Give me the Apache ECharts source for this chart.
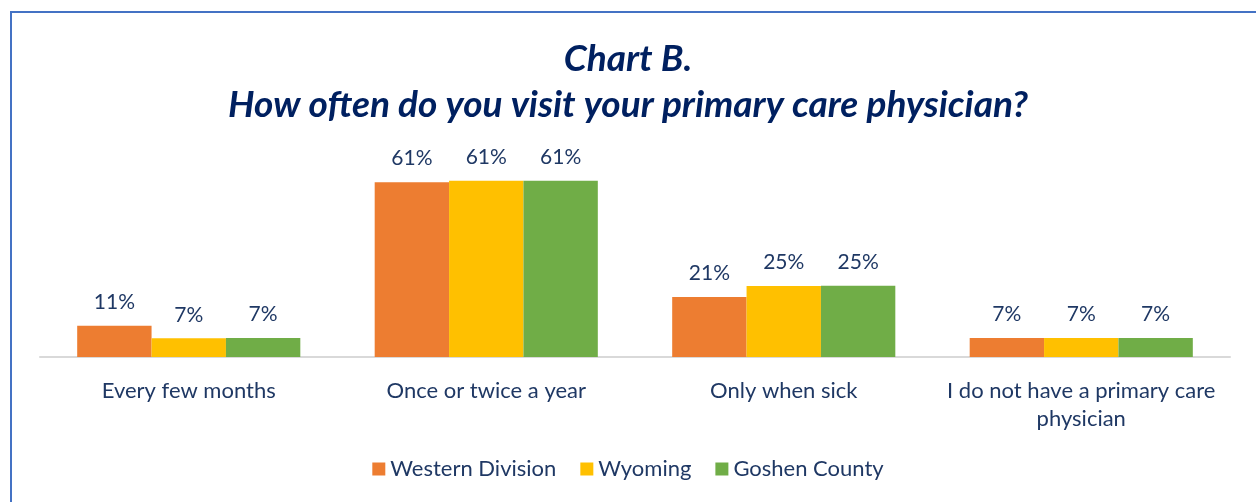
<!DOCTYPE html>
<html><head><meta charset="utf-8">
<script src="https://cdn.jsdelivr.net/npm/echarts@6/dist/echarts.min.js"></script>
<style>html,body{margin:0;padding:0;background:#fff;}#c{width:1256px;height:502px;}</style>
</head><body><div id="c"></div>
<script>
const categories = ["Every few months", "Once or twice a year", "Only when sick", "I do not have a primary care\nphysician"];
const seriesNames = ["Western Division", "Wyoming", "Goshen County"];
const westernDivision = [10.8, 60.6, 20.8, 6.6];
const wyoming = [6.5, 61.1, 24.6, 6.6];
const goshenCounty = [6.6, 61.1, 24.7, 6.6];
const colors = ["#ED7D31", "#FFC000", "#70AD47"];
const titleLines = ["Chart B.", "How often do you visit your primary care physician?"];

const navy = "#1F3864";
const font = "Lato, 'Open Sans', sans-serif";
const chart = echarts.init(document.getElementById('c'));
const dataSets = [westernDivision, wyoming, goshenCounty];
chart.setOption({
  animation: false,
  title: {
    text: titleLines.join("\n"),
    left: 'center', top: 31,
    textStyle: {color: "#002060", fontFamily: font, fontSize: 37, fontWeight: 'bold', fontStyle: 'italic', lineHeight: 46}
  },
  graphic: [{type: 'rect', shape: {x: 11, y: 12, width: 1400, height: 600}, style: {fill: 'none', stroke: '#4472C4', lineWidth: 2}, silent: true}],
  legend: {
    bottom: 17, left: 'center', itemWidth: 13, itemHeight: 13, itemGap: 24,
    icon: 'rect',
    textStyle: {color: navy, fontFamily: font, fontSize: 22},
    data: seriesNames
  },
  grid: {left: 40, right: 26, top: 155, height: 202},
  xAxis: {
    type: 'category', data: categories,
    axisLine: {lineStyle: {color: '#D9D9D9', width: 2}},
    axisTick: {show: false},
    axisLabel: {color: navy, fontFamily: font, fontSize: 22, margin: 20, lineHeight: 28, interval: 0}
  },
  yAxis: {type: 'value', min: 0, max: 70, show: false, splitLine: {show: false}},
  series: seriesNames.map((n, i) => ({
    name: n, type: 'bar', data: dataSets[i],
    barGap: '0%', barCategoryGap: '25%',
    itemStyle: {color: colors[i]},
    label: {show: true, position: 'top', distance: 13, color: navy, fontFamily: font, fontSize: 21,
      formatter: p => Math.round(p.value) + '%'}
  }))
});
</script></body></html>
